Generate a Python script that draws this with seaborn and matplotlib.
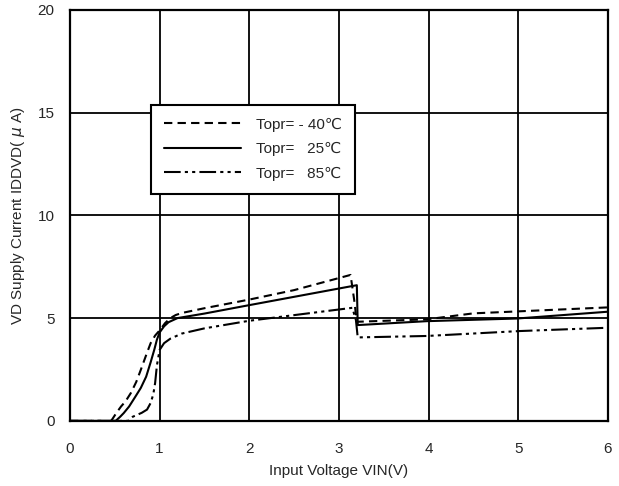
import numpy as np
import pandas as pd
import matplotlib
matplotlib.use("Agg")
import matplotlib.pyplot as plt
import seaborn as sns

# curve values (VIN in V, IDDVD in uA)
vin_m40 = [0.0, 0.46, 0.52, 0.57, 0.62, 0.68, 0.74, 0.79, 0.85, 0.90, 0.95, 1.00, 1.06, 1.12, 1.18, 1.25, 1.50, 2.00, 2.50, 3.13, 3.17, 3.20, 3.98, 4.50, 6.00]
idd_m40 = [0.0, 0.0, 0.40, 0.70, 0.95, 1.36, 1.90, 2.48, 3.20, 3.78, 4.15, 4.40, 4.75, 5.00, 5.15, 5.25, 5.48, 5.90, 6.36, 7.10, 5.90, 4.82, 4.94, 5.23, 5.52]

vin_25 = [0.0, 0.51, 0.56, 0.60, 0.66, 0.73, 0.79, 0.85, 0.90, 0.94, 0.97, 1.00, 1.05, 1.10, 1.20, 1.50, 2.00, 3.20, 3.21, 3.98, 4.99, 6.00]
idd_25 = [0.0, 0.0, 0.20, 0.38, 0.70, 1.18, 1.60, 2.15, 2.85, 3.45, 3.95, 4.30, 4.60, 4.80, 5.00, 5.22, 5.63, 6.60, 4.66, 4.85, 4.98, 5.31]

vin_85 = [0.0, 0.65, 0.70, 0.80, 0.86, 0.90, 0.93, 0.95, 0.97, 1.00, 1.05, 1.12, 1.25, 1.50, 2.00, 3.15, 3.19, 3.21, 3.98, 5.02, 6.00]
idd_85 = [0.0, 0.0, 0.20, 0.39, 0.55, 0.87, 1.30, 1.84, 2.70, 3.45, 3.78, 4.00, 4.25, 4.50, 4.87, 5.50, 4.90, 4.06, 4.13, 4.37, 4.53]

labels = ["Topr= - 40\u2103", "Topr=   25\u2103", "Topr=   85\u2103"]

frames = []
for lab, xs, ys in zip(labels, [vin_m40, vin_25, vin_85], [idd_m40, idd_25, idd_85]):
    frames.append(pd.DataFrame({"VIN": xs, "IDD": ys, "Topr": lab}))
df = pd.concat(frames, ignore_index=True)

sns.set_style("white")
plt.rcParams['font.family'] = ['Liberation Sans', 'DejaVu Sans']

fig = plt.figure(figsize=(6.19, 4.86), dpi=100)
ax = fig.add_axes([0.113, 0.134, 0.869, 0.846])

styles = {labels[0]: (0, (4, 2.5)), labels[1]: '-', labels[2]: (0, (8, 2, 1.5, 2, 1.5, 2))}
for lab in labels:
    sub = df[df["Topr"] == lab]
    sns.lineplot(data=sub, x="VIN", y="IDD", ax=ax, color="black", lw=1.5,
                 linestyle=styles[lab], label=lab, sort=False, estimator=None)

ax.set_xlim(0, 6)
ax.set_ylim(0, 20)
ax.set_xticks(range(0, 7))
ax.set_yticks([0, 5, 10, 15, 20])
ax.grid(True, color="black", lw=1.3)
for s in ax.spines.values():
    s.set_color("black")
    s.set_linewidth(1.6)
ax.tick_params(length=0, labelsize=11)
ax.tick_params(axis="x", pad=15)
ax.tick_params(axis="y", pad=11)
ax.set_xlabel("Input Voltage VIN(V)", fontsize=11, labelpad=6)
ax.set_ylabel("VD Supply Current IDDVD( $\\mu$ A)", fontsize=11, labelpad=8)

leg = ax.legend(loc="upper left", bbox_to_anchor=(0.151, 0.769), fontsize=11,
                frameon=True, fancybox=False, edgecolor="black", framealpha=1,
                handlelength=5.0, borderpad=0.85, labelspacing=0.68, handletextpad=1.0,
                borderaxespad=0)
leg.get_frame().set_linewidth(1.5)

fig.savefig("out.png", dpi=100)
